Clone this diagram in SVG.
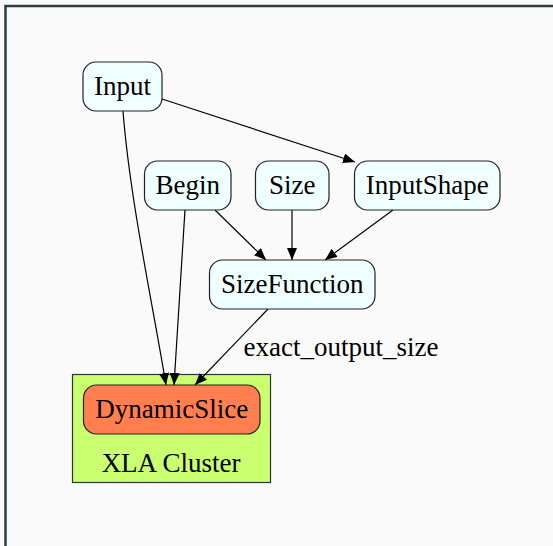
<svg xmlns="http://www.w3.org/2000/svg" width="553" height="546" viewBox="0 0 553 546">
<defs>
<marker id="ah" markerUnits="userSpaceOnUse" markerWidth="14" markerHeight="12" refX="12" refY="5" orient="auto">
<path d="M0,0 L12,5 L0,10 z" fill="#000"/>
</marker>
<style>
.node rect{fill:#f0ffff;stroke:#222;stroke-width:1.2}
text{font-family:"Liberation Serif","Times New Roman",serif;font-size:27px;fill:#000;text-anchor:middle}
.edges path{fill:none;stroke:#000;stroke-width:1.2;marker-end:url(#ah)}
</style>
</defs>
<rect x="0" y="0" width="553" height="546" fill="#fafafa"/>
<rect x="5.5" y="6" width="620" height="620" fill="none" stroke="#2f3f3f" stroke-width="2.5"/>
<g id="cluster">
<rect x="72.5" y="374.5" width="198" height="108" fill="#caff70" stroke="#333" stroke-width="1.2"/>
<text x="171" y="472">XLA Cluster</text>
</g>
<g class="edges" id="connectors">
<path d="M162,99 L355,162"/>
<path d="M123,111 C130,200 152,300 166,385"/>
<path d="M185,210 L174,385"/>
<path d="M215,210 L266,260"/>
<path d="M292,210 L292,260"/>
<path d="M393,210 L325,260"/>
<path d="M268,309 L195,385"/>
</g>
<text x="341" y="356">exact_output_size</text>
<g class="node" id="Input"><rect x="83" y="62" width="79" height="49" rx="13"/><text x="122.5" y="95">Input</text></g>
<g class="node" id="Begin"><rect x="144.5" y="161" width="86.5" height="49" rx="13"/><text x="187.7" y="194">Begin</text></g>
<g class="node" id="Size"><rect x="255.5" y="161" width="73.5" height="49" rx="13"/><text x="292.2" y="194">Size</text></g>
<g class="node" id="InputShape"><rect x="354.5" y="161" width="145.5" height="49" rx="13"/><text x="427.2" y="194">InputShape</text></g>
<g class="node" id="SizeFunction"><rect x="209.5" y="260" width="165.5" height="49" rx="13"/><text x="292.2" y="293">SizeFunction</text></g>
<g class="node" id="DynamicSlice"><rect x="83.5" y="385" width="176.5" height="49" rx="13" style="fill:#ff7f50"/><text x="171.7" y="418">DynamicSlice</text></g>
</svg>
